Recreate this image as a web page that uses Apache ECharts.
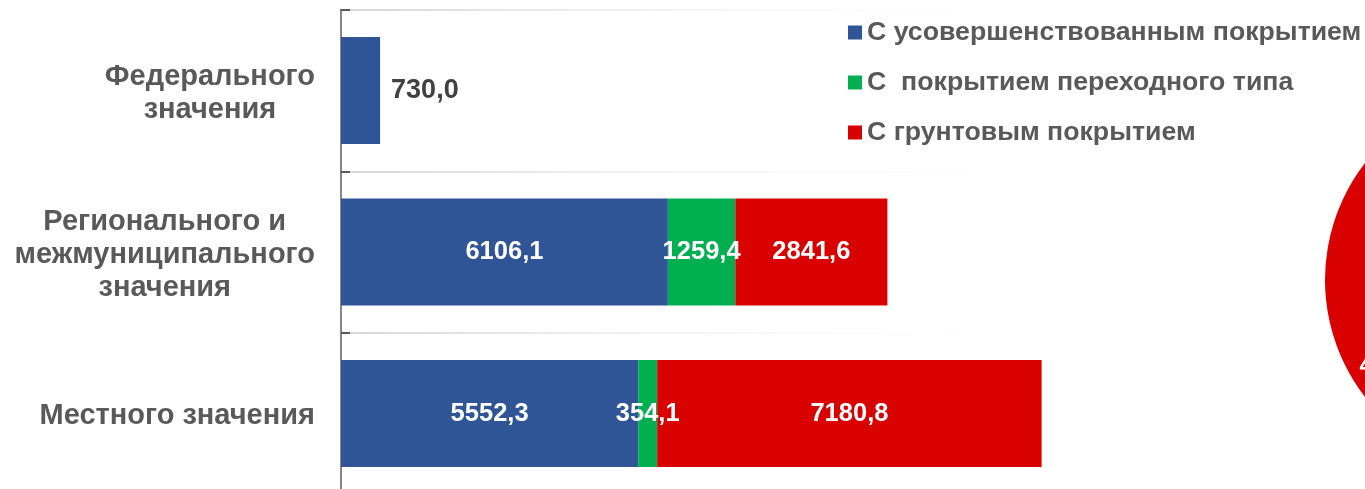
<!DOCTYPE html>
<html>
<head>
<meta charset="utf-8">
<script src="https://cdn.jsdelivr.net/npm/echarts@6/dist/echarts.min.js"></script>
<style>
html,body{margin:0;padding:0;background:#fff;}
#chart{width:1365px;height:489px;}
</style>
</head>
<body>
<div id="chart"></div>
<script>
var categories = ['Федерального\nзначения', 'Регионального и\nмежмуниципального\nзначения', 'Местного значения'];
var seriesNames = ['С усовершенствованным покрытием', 'С  покрытием переходного типа', 'С грунтовым покрытием'];
var improved = [730.0, 6106.1, 5552.3];
var transitional = [null, 1259.4, 354.1];
var dirt = [null, 2841.6, 7180.8];
var pieShares = [51.6, 6.7, 41.7];
var colors = ['#2F5597', '#00B050', '#D90000'];

var FONT = '"Liberation Sans", Arial, sans-serif';
function fmt(v){ return (v == null) ? '' : Number(v).toFixed(1).replace('.', ','); }

var chart = echarts.init(document.getElementById('chart'));

function barSeries(name, data, color, idx){
  return {
    name: name, type: 'bar', stack: 'total', data: data.map(function(v, i){
      if (idx === 0 && i === 0) {
        return {value: v, label: {position: 'right', distance: 11, color: '#404040', fontSize: 27}};
      }
      return v;
    }),
    barWidth: 107,
    itemStyle: {color: color},
    label: {show: true, position: 'inside', color: '#ffffff', fontFamily: FONT, fontWeight: 'bold', fontSize: 25.5,
      formatter: function(p){ return fmt(p.value); }},
    emphasis: {disabled: true},
    silent: true
  };
}

var option = {
  animation: false,
  backgroundColor: '#ffffff',
  textStyle: {fontFamily: FONT},
  grid: {left: 341, top: 9.75, width: 803, height: 484.5, containLabel: false, outerBoundsMode: 'none'},
  legend: {
    data: seriesNames,
    orient: 'vertical', left: 848, top: 19, padding: 0,
    itemWidth: 14, itemHeight: 14, itemGap: 23,
    icon: 'rect',
    textStyle: {color: '#595959', fontFamily: FONT, fontWeight: 'bold', fontSize: 26.7},
    selectedMode: false
  },
  xAxis: {type: 'value', min: 0, max: 15000, show: false},
  yAxis: {
    type: 'category', inverse: true, data: categories,
    axisLine: {show: true, lineStyle: {color: '#868686', width: 2}},
    axisTick: {show: true, inside: true, length: 9, lineStyle: {color: '#595959', width: 2}},
    splitLine: {show: true, lineStyle: {width: 2, color: new echarts.graphic.LinearGradient(341, 0, 1060, 0, [
      {offset: 0, color: '#d6d6d6'}, {offset: 1, color: 'rgba(255,255,255,0)'}], true)}},
    axisLabel: {
      margin: 26, align: 'right', padding: [5, 0, 0, 0],
      formatter: function(v){ return v.split('\n').map(function(s){ return '{c|' + s + '}'; }).join('\n'); },
      rich: {c: {align: 'center', color: '#595959', fontFamily: FONT, fontWeight: 'bold', fontSize: 29, lineHeight: 33}}
    }
  },
  series: [
    barSeries(seriesNames[0], improved, colors[0], 0),
    barSeries(seriesNames[1], transitional, colors[1], 1),
    barSeries(seriesNames[2], dirt, colors[2], 2),
    {
      type: 'pie', center: [1516, 280], radius: [103, 191], startAngle: 140.2, clockwise: true,
      silent: true, emphasis: {disabled: true},
      data: pieShares.map(function(v, i){ return {value: v, name: 'p' + i, itemStyle: {color: colors[i]}}; }),
      label: {show: true, position: 'inside', color: '#ffffff', fontFamily: FONT, fontWeight: 'bold', fontSize: 24,
        formatter: function(p){ return fmt(p.value) + '%'; }},
      labelLine: {show: false}
    }
  ]
};
chart.setOption(option);
</script>
</body>
</html>
